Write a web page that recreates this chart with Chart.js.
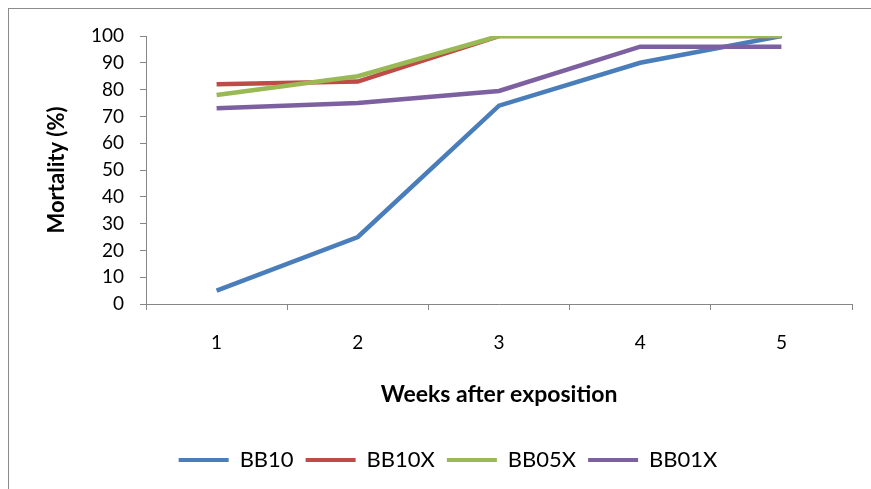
<!DOCTYPE html>
<html>
<head>
<meta charset="utf-8">
<script src="https://cdn.jsdelivr.net/npm/chart.js@4.4.1/dist/chart.umd.min.js"></script>
<style>
  html, body { margin: 0; padding: 0; background: #fff; }
  #wrap { position: relative; width: 871px; height: 489px; overflow: hidden; }
  #frame { position: absolute; left: 8px; top: 8px; width: 900px; height: 500px; border: 1px solid #8c8c8c; box-sizing: border-box; }
  canvas { position: absolute; left: 0; top: 0; }
</style>
</head>
<body>
<div id="wrap">
  <div id="frame"></div>
  <canvas id="c" width="871" height="489"></canvas>
</div>
<script>
const categories = ["1", "2", "3", "4", "5"];
const seriesNames = ["BB10", "BB10X", "BB05X", "BB01X"];
const bb10 = [5, 25, 74, 90, 100];
const bb10x = [82, 83, 100, 100, 100];
const bb05x = [78, 85, 100, 100, 100];
const bb01x = [73, 75, 79.5, 96, 96];
const yTicks = [0, 10, 20, 30, 40, 50, 60, 70, 80, 90, 100];
const xTitle = "Weeks after exposition";
const yTitle = "Mortality (%)";

const colors = ["#4a7ebb", "#be4b48", "#98b954", "#7d60a0"];
const values = [bb10, bb10x, bb05x, bb01x];
const FONT = "Lato";
const AXIS = "#868686";

const datasets = seriesNames.map((name, i) => ({
  label: name,
  data: values[i],
  borderColor: colors[i],
  backgroundColor: colors[i],
  borderWidth: 4.5,
  pointRadius: 0,
  pointHoverRadius: 0,
  tension: 0,
  fill: false,
  order: seriesNames.length - i
}));

new Chart(document.getElementById("c"), {
  type: "line",
  data: { labels: categories, datasets },
  options: {
    responsive: false,
    animation: false,
    devicePixelRatio: 1,
    layout: { padding: { top: 36, right: 19, left: 44, bottom: 8 } },
    plugins: {
      tooltip: { enabled: false },
      legend: {
        position: "bottom",
        labels: {
          font: { family: FONT, size: 22 },
          color: "#000",
          boxWidth: 50,
          boxHeight: 4,
          padding: 12,
          sort: (a, b) => a.datasetIndex - b.datasetIndex,
          generateLabels: (chart) =>
            Chart.defaults.plugins.legend.labels.generateLabels(chart).map(l => Object.assign(l, { lineWidth: 0 }))
        }
      }
    },
    scales: {
      x: {
        type: "category",
        offset: true,
        grid: { display: true, drawOnChartArea: false, drawTicks: true, tickLength: 6, color: AXIS, offset: true },
        border: { display: true, color: AXIS, width: 1 },
        ticks: { font: { family: FONT, size: 19 }, color: "#000", padding: 21, maxRotation: 0 },
        title: { display: true, text: xTitle, font: { family: FONT, size: 23, weight: "bold" }, color: "#000", padding: { top: 0, bottom: 29 } },
        afterFit: (s) => { s.height = 133; }
      },
      y: {
        min: 0,
        max: 100,
        afterBuildTicks: (s) => { s.ticks = yTicks.map(v => ({ value: v })); },
        grid: { display: true, drawOnChartArea: false, drawTicks: true, tickLength: 6, color: AXIS },
        border: { display: true, color: AXIS, width: 1 },
        ticks: { font: { family: FONT, size: 19 }, color: "#000", padding: 16 },
        title: { display: true, text: yTitle, font: { family: FONT, size: 22, weight: "bold" }, color: "#000", padding: { top: 0, bottom: 0 } },
        afterFit: (s) => { s.width = 102; }
      }
    }
  }
});
</script>
</body>
</html>
